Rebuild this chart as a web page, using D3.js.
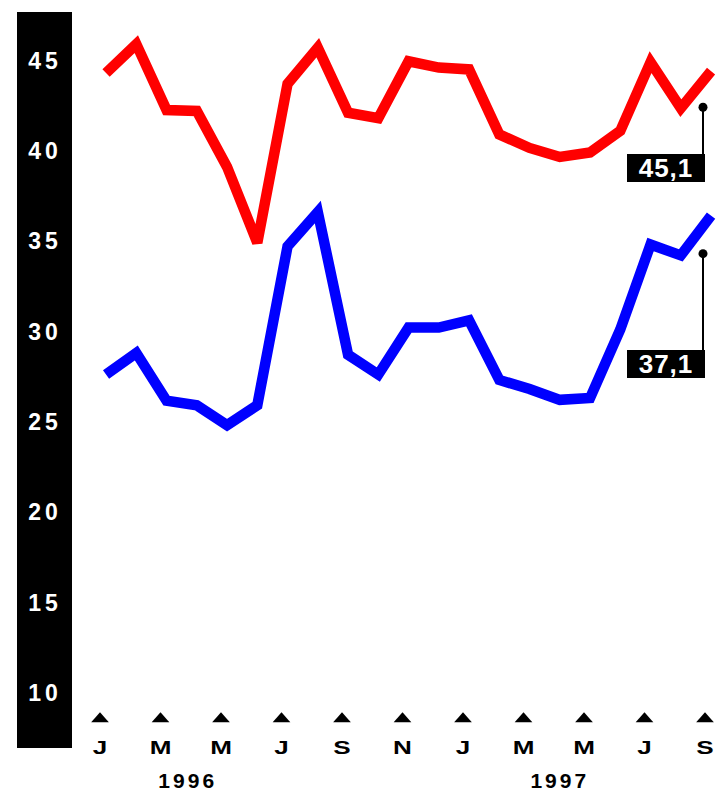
<!DOCTYPE html>
<html>
<head>
<meta charset="utf-8">
<script src="https://cdn.jsdelivr.net/npm/d3@7"></script>
<style>
  html, body { margin: 0; padding: 0; background: #fff; }
  svg { display: block; }
</style>
</head>
<body>
<svg id="chart" width="720" height="794"></svg>
<script>
// Monthly readings, January 1996 to September 1997
const monthIndex = d3.range(21);
const redSeries = [45.0, 46.6, 42.95, 42.9, 39.8, 35.6, 44.4, 46.4, 42.8, 42.5, 45.65,
                   45.3, 45.2, 41.6, 40.85, 40.35, 40.6, 41.8, 45.6, 43.05, 45.1];
const blueSeries = [28.3, 29.5, 26.85, 26.6, 25.5, 26.6, 35.4, 37.3, 29.4, 28.3, 30.9,
                    30.9, 31.3, 28.0, 27.5, 26.9, 27.0, 30.8, 35.5, 34.9, 37.1];
const yTicks = [10, 15, 20, 25, 30, 35, 40, 45];
const xTickIndex = [0, 2, 4, 6, 8, 10, 12, 14, 16, 18, 20];
const xTickLabels = ["J", "M", "M", "J", "S", "N", "J", "M", "M", "J", "S"];
const years = ["1996", "1997"];
const endLabels = ["45,1", "37,1"];

const svg = d3.select("#chart");

const x = d3.scaleLinear().domain([0, 20]).range([100, 705]);
const y = d3.scaleLinear().domain([10, 45]).range([705, 73]);
const pointShift = 0.2; // readings sit just after each month tick

// black value band on the left
svg.append("rect")
  .attr("x", 17).attr("y", 12)
  .attr("width", 55).attr("height", 736)
  .attr("fill", "#000");

// y axis labels inside the band
const yAxis = d3.axisLeft(y).tickValues(yTicks).tickSize(0).tickPadding(0)
  .tickFormat(d3.format("d"));
const yg = svg.append("g").attr("transform", "translate(45,0)").call(yAxis);
yg.select(".domain").remove();
yg.selectAll("text")
  .attr("text-anchor", "middle")
  .attr("dy", "-0.2em")
  .attr("fill", "#fff")
  .style("font-family", "'Liberation Sans', Arial, sans-serif")
  .style("font-weight", "bold")
  .style("font-size", "23px")
  .style("letter-spacing", "4px");

// series lines
const line = d3.line()
  .x((d, i) => x(monthIndex[i] + pointShift))
  .y(d => y(d));

svg.append("path")
  .datum(redSeries)
  .attr("d", line)
  .attr("fill", "none")
  .attr("stroke", "#ff0000")
  .attr("stroke-width", 10.5)
  .attr("stroke-linejoin", "miter")
  .attr("stroke-miterlimit", 3);

svg.append("path")
  .datum(blueSeries)
  .attr("d", line)
  .attr("fill", "none")
  .attr("stroke", "#0000ff")
  .attr("stroke-width", 10.5)
  .attr("stroke-linejoin", "miter")
  .attr("stroke-miterlimit", 3);

// end-value callouts: dot, leader and boxed figure
const last = monthIndex.length - 1;
const callouts = [
  { value: redSeries[last], text: endLabels[0], dotGap: 36, boxTop: 154 },
  { value: blueSeries[last], text: endLabels[1], dotGap: 38, boxTop: 350 }
];
const lx = x(last) - 2;
callouts.forEach(c => {
  const dy = y(c.value) + c.dotGap;
  const g = svg.append("g");
  g.append("line")
    .attr("x1", lx).attr("x2", lx)
    .attr("y1", dy).attr("y2", c.boxTop)
    .attr("stroke", "#000").attr("stroke-width", 2);
  g.append("circle")
    .attr("cx", lx).attr("cy", dy).attr("r", 4.5)
    .attr("fill", "#000");
  g.append("rect")
    .attr("x", lx - 76).attr("y", c.boxTop)
    .attr("width", 78).attr("height", 28)
    .attr("fill", "#000");
  g.append("text")
    .attr("x", lx - 37).attr("y", c.boxTop + 23)
    .attr("text-anchor", "middle")
    .attr("fill", "#fff")
    .style("font-family", "'Liberation Sans', Arial, sans-serif")
    .style("font-weight", "bold")
    .style("font-size", "26px")
    .style("letter-spacing", "1px")
    .text(c.text);
});

// month markers: triangles with initials
const xg = svg.append("g");
xTickIndex.forEach((m, i) => {
  const cx = x(m);
  xg.append("path")
    .attr("d", d3.symbol().type(d3.symbolTriangle).size(80)())
    .attr("transform", `translate(${cx},719) scale(1.3,0.85)`)
    .attr("fill", "#000");
  xg.append("text")
    .attr("transform", `translate(${cx},754) scale(1.45,1)`)
    .attr("text-anchor", "middle")
    .attr("fill", "#000")
    .style("font-family", "'Liberation Sans', Arial, sans-serif")
    .style("font-weight", "bold")
    .style("font-size", "18px")
    .text(xTickLabels[i]);
});

// year captions under the months
const yearCenter = [2.9, 15.2];
years.forEach((yr, i) => {
  svg.append("text")
    .attr("x", x(yearCenter[i])).attr("y", 788)
    .attr("text-anchor", "middle")
    .attr("fill", "#000")
    .style("font-family", "'Liberation Sans', Arial, sans-serif")
    .style("font-weight", "bold")
    .style("font-size", "21px")
    .style("letter-spacing", "3px")
    .text(yr);
});
</script>
</body>
</html>
